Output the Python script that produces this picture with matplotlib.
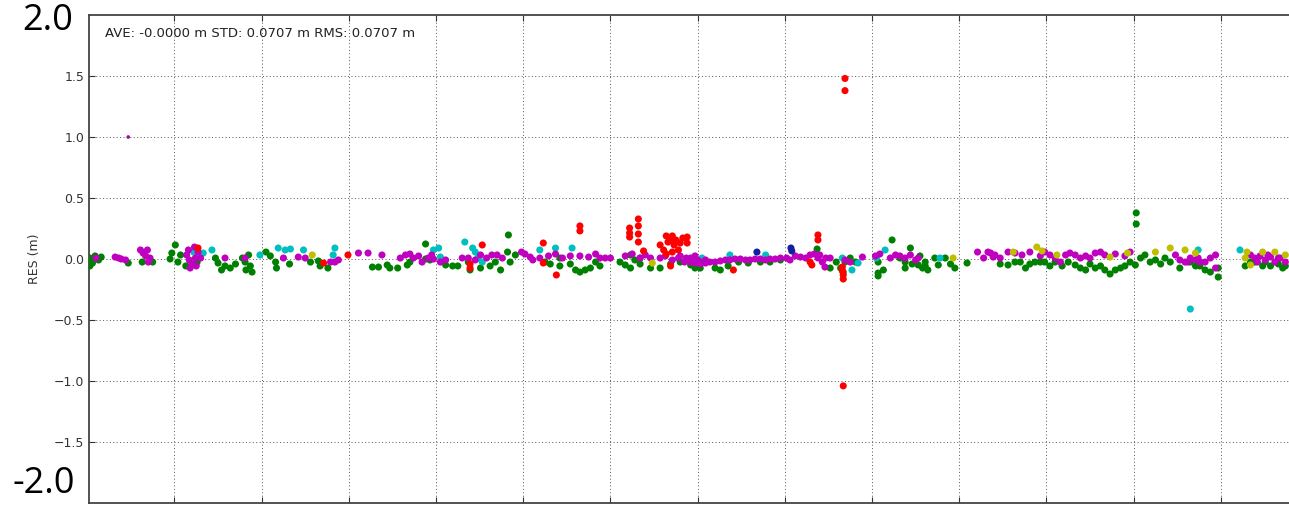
import numpy as np
import matplotlib
matplotlib.use("Agg")
import matplotlib.pyplot as plt


# ------------------------------------------------------------------
# Residuals per satellite group (time in hours, residual in metres)
# ------------------------------------------------------------------

green_t = [
    0.03, 0.06, 0.09, 0.13, 0.16, 0.03, 0.47, 0.63, 0.75, 0.95, 0.97, 1.01, 1.04, 1.07,
    1.47, 1.50, 1.54, 1.58, 1.64, 1.70, 1.78, 1.81, 1.85, 1.87, 1.89, 1.82, 2.05, 2.10,
    2.17, 2.16, 2.32, 2.56, 2.65, 2.67, 2.76, 3.27, 3.34,
    3.44, 3.47, 3.56, 3.67, 3.70, 3.88, 3.93, 3.88, 4.11, 4.19, 4.25, 4.37, 4.39, 4.51,
    4.62, 4.68, 4.74, 4.82, 4.85, 4.91, 4.83, 5.25, 5.31, 5.42, 5.54, 5.60, 5.65, 5.71,
    5.77, 5.83, 5.42, 6.11, 6.17, 6.23, 6.28, 6.34, 6.23, 6.57, 6.69, 6.80, 6.92,
    6.97, 7.20, 7.26, 7.35, 7.47, 7.58, 7.72, 7.83, 7.95, 8.37, 8.52, 8.59, 8.64, 8.69,
    8.75, 8.81, 8.67, 9.07, 9.13, 9.23, 9.32, 9.38, 9.46, 9.55, 9.61, 9.07, 9.07, 9.44,
    9.53, 9.58, 9.61, 9.64, 9.72, 9.84, 9.90, 9.95, 10.09,
    10.56, 10.64, 10.70, 10.81, 10.87, 10.93, 10.98, 11.04, 11.10, 11.33, 11.39, 11.50,
    11.62, 11.67, 11.73, 11.79, 11.85, 11.90, 11.96, 12.02, 12.03, 12.03, 12.08, 12.13,
    12.19, 12.25, 12.31, 12.36, 12.42, 12.53, 12.65, 12.71, 12.82, 12.88, 12.97, 12.97,
    13.28, 13.39, 13.48, 13.57, 13.66, 13.74,
    11.18, 11.25, 11.45, 11.56, 12.76, 13.34, 13.51, 13.71, 10.47, 10.76, 9.76, 9.38,
    1.26, 1.13, 6.34, 6.46, 7.03, 5.88,
]
green_res = [
    0.008, -0.033, 0.025, -0.008, 0.016, -0.057, -0.033, -0.025, -0.025, 0.0, 0.049, 0.115, -0.025, 0.033,
    0.008, -0.033, -0.090, -0.057, -0.074, -0.041, 0.008, -0.025, 0.033, -0.057, -0.107, -0.090, 0.057, 0.025,
    -0.074, -0.025, -0.041, -0.025, -0.016, -0.057, -0.074, -0.066, -0.066,
    -0.049, -0.074, -0.074, -0.049, -0.025, 0.0, -0.008, 0.123, -0.049, -0.057, -0.057, -0.025, -0.090, -0.074,
    -0.057, -0.025, -0.090, 0.057, -0.025, 0.033, 0.197, -0.025, -0.041, -0.057, -0.041, -0.090, -0.107, -0.090,
    -0.074, -0.025, 0.008, -0.025, -0.049, -0.074, -0.008, 0.008, 0.033, -0.074, -0.041, -0.025, -0.049,
    -0.074, -0.074, -0.090, -0.057, -0.025, -0.033, -0.025, -0.025, -0.008, 0.082, -0.074, -0.025, -0.074, -0.025,
    0.008, -0.025, -0.107, -0.025, -0.090, 0.156, 0.008, -0.025, -0.041, 0.025, -0.025, -0.139, -0.115, 0.090,
    -0.049, -0.074, -0.057, -0.090, 0.008, 0.008, -0.041, -0.074, -0.033,
    -0.049, -0.025, -0.025, -0.041, -0.025, -0.025, -0.025, -0.057, -0.025, -0.049, -0.074, -0.041,
    -0.057, -0.090, -0.123, -0.090, -0.074, -0.057, -0.025, -0.049, 0.378, 0.287, 0.008, 0.033,
    -0.025, -0.008, -0.041, 0.008, -0.025, -0.074, -0.025, -0.057, -0.090, -0.107, -0.074, -0.148,
    -0.057, -0.025, -0.057, -0.057, -0.041, -0.057,
    -0.057, -0.025, -0.090, -0.074, -0.057, -0.025, -0.025, -0.074, -0.041, -0.074, -0.049, -0.074,
    -0.025, -0.057, -0.041, -0.074, -0.074, -0.057,
]

magenta_t = [
    0.10, 0.32, 0.36, 0.39, 0.44, 0.61, 0.64, 0.67, 0.69, 0.72, 0.70, 1.14, 1.17, 1.20,
    1.24, 1.27, 1.18, 1.25, 1.30, 1.58, 1.81, 2.25, 2.42, 2.50, 2.79, 2.84, 2.88, 3.11,
    3.22, 3.38,
    3.59, 3.65, 3.70, 3.74, 3.80, 3.84, 3.91, 3.95, 3.97, 4.05, 4.11, 4.30, 4.37, 4.45,
    4.51, 4.58, 4.64, 4.70, 4.76, 4.98, 5.02, 5.08, 5.11, 5.19, 5.29, 5.37, 5.45, 5.54,
    5.65, 5.75, 5.83, 5.88, 5.94, 6.00, 6.17, 6.25, 6.34, 6.40, 6.46, 6.57, 6.63, 6.71,
    6.78, 6.85, 6.92, 7.00, 6.97, 7.03, 7.09,
    6.92, 6.97, 7.03, 7.09, 7.14, 7.20, 7.26, 7.32, 7.37, 7.43, 7.49, 7.55, 7.60, 7.66,
    7.72, 7.78, 7.83, 7.89, 7.95, 8.02, 8.06, 8.12, 8.18, 8.24, 8.29, 8.34, 8.38, 8.43,
    8.47, 8.46, 8.69, 8.75, 8.89, 9.04, 9.09, 9.21, 9.27, 9.32, 9.38, 9.44, 9.50, 9.53,
    10.21, 10.28, 10.33, 10.39,
    10.36, 10.41, 10.47, 10.56, 10.64, 10.72, 10.81, 10.93, 10.98, 11.10, 11.16, 11.22,
    11.27, 11.33, 11.39, 11.45, 11.50, 11.56, 11.62, 11.79, 11.90, 11.96, 12.48, 12.53,
    12.59, 12.65, 12.71, 12.76, 12.82, 12.88, 12.94, 12.94, 13.34, 13.39, 13.45, 13.51,
    13.57, 13.62, 13.68, 13.74,
    1.16, 1.23, 12.62, 12.74, 13.42, 13.54, 13.66, 11.04, 11.67, 6.80, 6.87, 8.40, 8.52,
]
magenta_res = [
    0.008, 0.016, 0.008, 0.0, -0.008, 0.074, 0.049, 0.025, 0.074, 0.008, -0.025, 0.033, -0.008, -0.041,
    0.008, 0.057, -0.074, -0.057, 0.008, 0.008, 0.008, 0.008, 0.016, 0.008, -0.025, -0.025, -0.008, 0.049,
    0.049, 0.033,
    0.008, 0.033, 0.041, 0.008, 0.025, -0.025, 0.008, 0.033, 0.0, -0.025, -0.008, 0.008, 0.008, -0.008,
    0.033, 0.008, 0.033, 0.033, 0.008, 0.057, 0.041, 0.016, -0.008, 0.008, 0.025, 0.041, 0.008, 0.025,
    0.025, 0.016, 0.041, 0.008, 0.008, 0.008, 0.025, 0.041, 0.008, 0.033, 0.008, 0.008, 0.025, -0.008,
    0.008, -0.025, 0.008, -0.008, 0.025, -0.025, -0.008,
    -0.025, -0.033, -0.041, -0.033, -0.025, -0.025, -0.016, -0.008, -0.008, 0.0, 0.0, -0.008, -0.008, 0.0,
    0.0, -0.008, 0.0, 0.0, 0.008, 0.008, -0.008, 0.025, 0.016, 0.008, 0.033, 0.041, 0.008, -0.025,
    0.008, -0.066, -0.008, -0.025, 0.016, 0.025, 0.041, 0.008, 0.033, 0.025, 0.008, 0.033, -0.008, 0.008,
    0.057, 0.008, 0.057, 0.016,
    0.049, 0.033, 0.008, 0.057, 0.049, 0.033, 0.057, 0.025, 0.057, 0.008, -0.025, 0.033,
    0.049, 0.033, 0.008, 0.025, 0.008, 0.049, 0.057, 0.041, 0.025, 0.057, 0.033, -0.008,
    -0.025, 0.008, -0.008, -0.025, -0.025, 0.008, 0.033, -0.074, 0.033, 0.008, 0.025, -0.008,
    0.016, -0.025, 0.008, -0.025,
    0.074, 0.098, -0.025, 0.008, -0.025, 0.033, 0.008, 0.033, 0.033, 0.025, 0.008, 0.033, 0.008,
]

# single early outlier, plotted with a smaller marker
magenta_out_t = [0.47]
magenta_out_res = [1.00]

cyan_t = [
    1.22, 1.33, 1.43, 1.98, 2.19, 2.27, 2.33, 2.48, 2.84, 2.82, 3.97, 4.03, 4.05, 4.33,
    4.42, 4.45, 4.48, 4.53, 5.19, 5.37, 5.56, 7.05, 7.37, 7.78, 8.66, 8.77, 8.84, 9.05,
    9.15, 9.78, 12.74, 13.22, 12.65,
]
cyan_res = [
    0.057, 0.049, 0.074, 0.033, 0.090, 0.074, 0.082, 0.074, 0.090, 0.033, 0.074, 0.090, 0.016, 0.139,
    0.090, 0.057, 0.008, -0.025, 0.074, 0.090, 0.090, 0.008, 0.033, 0.033, 0.008, -0.090, -0.033, 0.008,
    0.074, 0.008, 0.074, 0.074, -0.41,
]

red_t = [
    1.27, 2.71, 2.99, 4.53, 4.39, 4.39, 5.23, 5.23, 5.38, 5.65, 5.65, 6.22, 6.22, 6.22,
    6.32, 6.32, 6.32, 6.32, 6.38, 6.57, 6.61, 6.64, 6.66, 6.69, 6.71, 6.73, 6.75, 6.78,
    6.80, 6.83, 6.64, 6.71, 6.69, 6.88, 6.88, 7.41, 8.38, 8.38, 8.29, 8.31, 8.66, 8.66,
    8.67, 8.67, 8.67, 8.69, 8.69,
]
red_res = [
    0.090, -0.033, 0.033, 0.115, -0.041, -0.074, 0.131, -0.033, -0.131, 0.271, 0.230, 0.254, 0.213, 0.180,
    0.328, 0.271, 0.205, 0.139, 0.066, 0.115, 0.074, 0.189, 0.139, 0.156, 0.189, 0.115, 0.156, 0.074,
    0.131, 0.172, 0.041, 0.057, -0.057, 0.180, 0.131, -0.090, 0.197, 0.156, -0.025, -0.049, -0.066, -0.098,
    -0.131, -0.164, -1.04, 1.48, 1.38,
]

yellow_t = [
    2.58, 6.48, 9.93, 10.62, 10.89, 10.95, 11.12, 11.73, 11.93, 12.25, 12.42, 12.59, 12.71, 13.28,
    13.34, 13.30, 13.48, 13.62, 13.74,
]
yellow_res = [
    0.033, -0.033, 0.008, 0.057, 0.098, 0.066, 0.033, 0.016, 0.049, 0.057, 0.090, 0.074, 0.049, 0.008,
    -0.049, 0.057, 0.057, 0.057, 0.033,
]

blue_t = [7.68, 8.07, 8.08]
blue_res = [0.057, 0.090, 0.066]

Y_TICKS = [-1.5, -1.0, -0.5, 0.0, 0.5, 1.0, 1.5]
X_TICKS = list(range(1, 14))

STATS_TEXT = "AVE: -0.0000 m STD: 0.0707 m RMS: 0.0707 m"

SERIES = [
    (green_t, green_res, "g"),
    (cyan_t, cyan_res, "c"),
    (magenta_t, magenta_res, "m"),
    (yellow_t, yellow_res, "y"),
    (red_t, red_res, "r"),
    (blue_t, blue_res, "#1020a0"),
]


# ------------------------------------------------------------------
# Figure
# ------------------------------------------------------------------

fig = plt.figure(figsize=(12.89, 5.05), dpi=100)
ax = fig.add_axes([89 / 1289, 2 / 505, 1219 / 1289, 488 / 505])

for t, res, color in SERIES:
    ax.scatter(t, res, s=26, c=color, edgecolors="none", zorder=3)

ax.scatter(magenta_out_t, magenta_out_res, s=7, c="#a0109a",
           edgecolors="none", zorder=3)

ax.set_xlim(0.02, 14.0)
ax.set_ylim(-2.0, 2.0)
ax.set_xticks(X_TICKS)
ax.set_xticklabels([])
ax.set_yticks(Y_TICKS)
ax.set_yticklabels([f"{v:.1f}".replace("-", "\u2212") for v in Y_TICKS],
                   fontsize=9, color="#333333")
ax.tick_params(direction="in", length=4, top=True, right=True,
               color="#333333")

ax.grid(True, color="#555555", linestyle=(0, (1, 2.5)), linewidth=0.7)
ax.set_axisbelow(True)

for spine in ax.spines.values():
    spine.set_linewidth(1.3)
    spine.set_color("#444444")

ax.set_ylabel("RES (m)", fontsize=9, color="#333333", labelpad=9)

ax.text(0.013, 0.963, STATS_TEXT, transform=ax.transAxes,
        ha="left", va="center", fontsize=9.5, color="#222222")

# large range annotations on the left margin
fig.text(22 / 1289, 1 - 21 / 505, "2.0", fontsize=26, family="Open Sans",
         ha="left", va="center", color="black")
fig.text(12 / 1289, 3 / 505, "-2.0", fontsize=26, family="Open Sans",
         ha="left", va="bottom", color="black")

fig.savefig("out.png", dpi=100)
